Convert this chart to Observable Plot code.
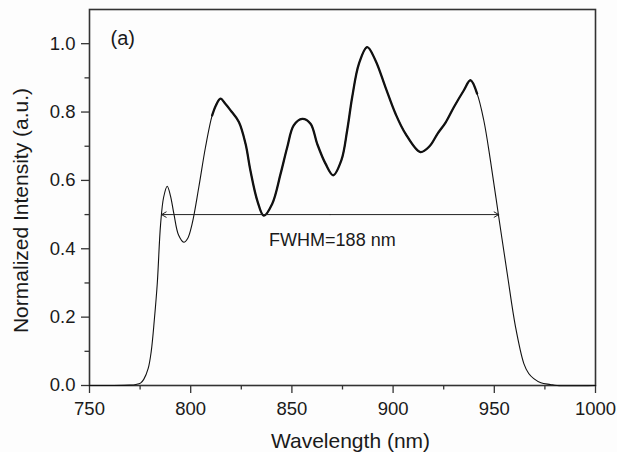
<!DOCTYPE html>
<html><head><meta charset="utf-8">
<script src="https://cdn.jsdelivr.net/npm/d3@7"></script>
<script src="https://cdn.jsdelivr.net/npm/@observablehq/plot@0.6"></script>
<style>
body{margin:0;background:#fdfdfd;}
svg{font-family:"Liberation Sans",Arial,sans-serif;}
</style>
</head><body><div id="chart"></div>
<script>
// Spectrum (wavelength in nm, normalized intensity)
const wavelength = [750,760,770,773,775.2,776.8,779,780.5,782,783.5,785.1,786.6,788.4,790,791.7,794,796.6,798.5,800.7,804,807.3,810.6,812.5,814.7,817,819.7,823.8,827.1,829.5,832.9,836.1,840.3,844.4,847.7,850.9,855.1,859.2,862.5,866.6,870.4,874.5,877.3,879.8,883.1,887.2,891.3,896.2,901.2,906.1,913.5,918,922,926,930,934.9,938.2,941.5,944.8,948.1,952.2,956.4,960.5,964.6,967,969.5,973,977.7,981,1000];
const intensity = [0,0,0.001,0.003,0.007,0.018,0.05,0.10,0.19,0.30,0.47,0.55,0.583,0.555,0.502,0.44,0.419,0.43,0.473,0.58,0.697,0.79,0.82,0.839,0.825,0.805,0.771,0.707,0.629,0.541,0.497,0.532,0.619,0.697,0.761,0.78,0.766,0.707,0.649,0.615,0.66,0.746,0.844,0.941,0.99,0.951,0.873,0.795,0.737,0.683,0.70,0.737,0.770,0.814,0.863,0.893,0.854,0.776,0.658,0.493,0.327,0.171,0.064,0.035,0.02,0.008,0.003,0,0];

const xTicks = [750,800,850,900,950,1000];
const xMinorTicks = [775,825,875,925,975];
const yTicks = [0,0.2,0.4,0.6,0.8,1.0];
const yMinorTicks = [0.1,0.3,0.5,0.7,0.9];

const fwhmStart = [785.6];
const fwhmEnd = [952.2];
const fwhmLevel = [0.5];
const fwhmLabel = ["FWHM=188 nm"];
const fwhmLabelPos = [870, 0.425];
const panelLabel = ["(a)"];
const panelLabelPos = [760.4, 1.015];
const xLabel = "Wavelength (nm)";
const yLabel = "Normalized Intensity (a.u.)";

const data = wavelength.map((w, i) => ({w, v: intensity[i]}));
const fwhm = [{from: fwhmStart[0], to: fwhmEnd[0], level: fwhmLevel[0], mid: (fwhmStart[0] + fwhmEnd[0]) / 2}];
const ink = "#111";

const chart = Plot.plot({
  width: 617, height: 452,
  marginLeft: 89, marginRight: 22, marginTop: 9, marginBottom: 67,
  style: {background: "#fdfdfd", fontFamily: "'Liberation Sans', Arial, sans-serif", fontSize: "18.5px", color: "#1a1a1a"},
  x: {domain: [750, 1000]},
  y: {domain: [0, 1.1]},
  marks: [
    Plot.axisX({ticks: xTicks, tickSize: 8, tickPadding: 8.5, tickFormat: d => String(d), label: null, fontSize: 18.5, stroke: "#333", strokeWidth: 1.3}),
    Plot.axisX({ticks: xMinorTicks, tickSize: 4.5, tickFormat: () => "", label: null, stroke: "#333", strokeWidth: 1.3}),
    Plot.axisY({ticks: yTicks, tickSize: 8, tickPadding: 6, tickFormat: d3.format(".1f"), label: null, fontSize: 18.5, stroke: "#333", strokeWidth: 1.3}),
    Plot.axisY({ticks: yMinorTicks, tickSize: 4.5, tickFormat: () => "", label: null, stroke: "#333", strokeWidth: 1.3}),
    Plot.frame({stroke: "#333", strokeWidth: 1.6}),
    Plot.line(data, {x: "w", y: "v", curve: "catmull-rom", stroke: ink, strokeWidth: 1.1}),
    Plot.line(data, {filter: d => d.w >= 810 && d.w <= 943, x: "w", y: "v", curve: "catmull-rom", stroke: ink, strokeWidth: 2.3}),
    Plot.arrow(fwhm, {x1: "mid", x2: "from", y1: "level", y2: "level", bend: 0, headLength: 8, stroke: "#222", strokeWidth: 1}),
    Plot.arrow(fwhm, {x1: "mid", x2: "to", y1: "level", y2: "level", bend: 0, headLength: 8, stroke: "#222", strokeWidth: 1}),
    Plot.text(fwhmLabel, {x: () => fwhmLabelPos[0], y: () => fwhmLabelPos[1], text: d => d, fontSize: 18, fill: "#1a1a1a"}),
    Plot.text(panelLabel, {x: () => panelLabelPos[0], y: () => panelLabelPos[1], text: d => d, textAnchor: "start", fontSize: 20, fill: "#1a1a1a"}),
    Plot.text([xLabel], {frameAnchor: "bottom", lineAnchor: "bottom", dy: 62, dx: 8, text: d => d, fontSize: 21, fill: "#1a1a1a"}),
    Plot.text([yLabel], {frameAnchor: "left", textAnchor: "middle", lineAnchor: "middle", rotate: -90, dx: -68, dy: 13, text: d => d, fontSize: 21, fill: "#1a1a1a"})
  ]
});
document.getElementById("chart").append(chart);
</script>
</body></html>
